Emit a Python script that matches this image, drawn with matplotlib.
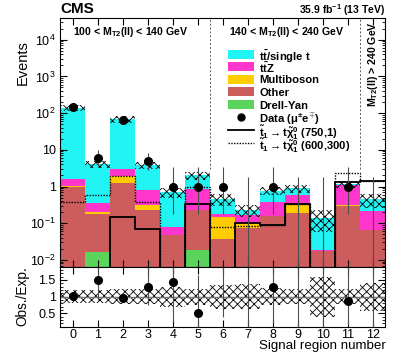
import numpy as np
import matplotlib
matplotlib.use('Agg')
import matplotlib.pyplot as plt
from matplotlib.patches import Rectangle
from matplotlib.ticker import LogLocator, NullFormatter, MultipleLocator

plt.rcParams['font.family'] = ['Liberation Sans', 'DejaVu Sans']
plt.rcParams['mathtext.fontset'] = 'custom'
plt.rcParams['mathtext.rm'] = 'Liberation Sans'
plt.rcParams['mathtext.it'] = 'Liberation Sans:italic'
plt.rcParams['mathtext.bf'] = 'Liberation Sans:bold'
plt.rcParams['hatch.linewidth'] = 0.6

# signal regions
regions = np.arange(13)
region_labels = [str(i) for i in regions]

# background estimates (stack order, bottom to top)
drell_yan = np.array([0, 0.016, 0, 0, 0, 0.019, 0, 0, 0, 0, 0, 0, 0])
other = np.array([1.0, 0.159, 1.27, 0.224, 0.047, 0.21, 0.037, 0.073, 0.16, 0.186, 0.0175, 0.29, 0.065])
multiboson = np.array([0.02, 0.03, 0.66, 0.086, 0, 0, 0.108, 0.027, 0, 0.144, 0, 0.02, 0])
ttz = np.array([0.55, 0.15, 1.0, 0.48, 0.033, 0.61, 0.033, 0.067, 0.21, 0.26, 0.0015, 0.79, 0.15])
ttbar = np.array([140.4, 3.65, 66.0, 3.06, 0.61, 1.16, 0.27, 0.063, 0.40, 0.30, 0.121, 0.05, 0.235])

# relative uncertainty of the total background
bkg_unc = np.array([0.2, 0.2, 0.22, 0.23, 0.3, 0.24, 0.36, 0.37, 0.25, 0.23, 0.6, 0.22, 0.42])

# observed data with 68% Poisson intervals
data = np.array([144, 6, 67, 5, 1, 1, 1, 0, 1, 0, 0, 1, 0])
data_lo = np.array([132.0, 3.62, 58.8, 2.84, 0.173, 0.173, 0.173, 0, 0.173, 0, 0, 0.173, 0])
data_hi = np.array([157.0, 9.58, 76.2, 8.38, 3.30, 3.30, 3.30, 1.84, 3.30, 1.84, 1.84, 3.30, 1.84])

# signal models
sig_750_1 = np.array([0, 0, 0.148, 0.069, 0, 0.34, 0, 0.099, 0.089, 0.33, 0, 1.35, 1.45])
sig_600_300 = np.array([0.37, 0.59, 1.93, 0.38, 0, 0.95, 0.08, 0.084, 0.089, 0.33, 0, 2.3, 1.45])

ytick_vals = [1e-2, 1e-1, 1, 10, 1e2, 1e3, 1e4]
ytick_labels = ['$10^{-2}$', '$10^{-1}$', '1', '10', '$10^{2}$', '$10^{3}$', '$10^{4}$']

leg_labels = [r't$\mathbf{\bar{t}}$/single t', r't$\mathbf{\bar{t}}$Z', 'Multiboson', 'Other', 'Drell-Yan',
              r'Data ($\mathbf{\mu^{\pm}e^{\mp}}$)',
              r'$\mathbf{\tilde{t}_1 \rightarrow t\tilde{\chi}^0_1}$ (750,1)',
              r'$\mathbf{\tilde{t}_1 \rightarrow t\tilde{\chi}^0_1}$ (600,300)']

c_tt = '#22f3f3'
c_ttz = '#ff35cc'
c_vv = '#ffcc00'
c_other = '#cd5c5c'
c_dy = '#5ad45a'

fig = plt.figure(figsize=(4.07, 3.56), dpi=100)
ax = fig.add_axes([0.1486, 0.2514, 0.7985, 0.699])
rax = fig.add_axes([0.1486, 0.0823, 0.7985, 0.1691])

stack = [(drell_yan, c_dy), (other, c_other), (multiboson, c_vv), (ttz, c_ttz), (ttbar, c_tt)]
bottom = np.zeros(13)
for vals, col in stack:
    ax.bar(regions, vals, width=1.0, bottom=bottom, color=col, lw=0)
    bottom = bottom + vals
total = bottom

ax.bar(regions, 2 * bkg_unc * total, width=1.0, bottom=total * (1 - bkg_unc),
       fill=False, hatch='xxxx', edgecolor='k', lw=0)

edges = np.arange(14) - 0.5
ax.stairs(np.where(sig_750_1 > 0, sig_750_1, 1e-4), edges, baseline=None, color='k', lw=1.3)
ax.stairs(np.where(sig_600_300 > 0, sig_600_300, 1e-4), edges, baseline=None, color='k', lw=1.0,
          linestyle=(0, (1, 1)))

ax.vlines(regions, np.clip(data_lo, 1e-4, None), data_hi, color='0.3', lw=0.8)
has = data > 0
ax.plot(regions[has], data[has], 'o', color='k', ms=5.5)

ax.vlines([5.5, 11.5], 3, 4e4, color='0.35', lw=0.7, linestyles=(0, (2, 2)))

ax.set_yscale('log')
ax.set_xlim(-0.5, 12.5)
ax.set_ylim(0.0066, 4e4)
ax.set_yticks(ytick_vals, ytick_labels)
ax.yaxis.set_minor_locator(LogLocator(base=10, subs=np.arange(2, 10), numticks=100))
ax.yaxis.set_minor_formatter(NullFormatter())
ax.set_xticks(regions)
ax.tick_params(which='both', direction='in', top=True, right=True, labelbottom=False, labelsize=9)
ax.tick_params(which='major', length=5)
ax.tick_params(which='minor', length=2.5)
ax.set_ylabel('Events', fontsize=10.5, ha='right')
ax.yaxis.set_label_coords(-0.095, 0.91)

ax.text(2.3, 1.6e4, r'100 < M$_{\mathbf{T2}}$(ll) < 140 GeV', ha='center', va='center',
        fontsize=7.6, fontweight='bold')
ax.text(8.55, 1.6e4, r'140 < M$_{\mathbf{T2}}$(ll) < 240 GeV', ha='center', va='center',
        fontsize=7.6, fontweight='bold')
ax.text(12.0, 3.2e4, r'M$_{\mathbf{T2}}$(ll) > 240 GeV', ha='center', va='top', rotation=90,
        fontsize=7.6, fontweight='bold')

# legend drawn row by row in axes coordinates
row_px = [54.7, 66.8, 79.2, 91.8, 104.6, 117.4, 130.3, 143.3]
ax_top_px, ax_h_px = 266.5, 249.0
x0, x1, xt = 0.515, 0.595, 0.612
for i, lab in enumerate(leg_labels):
    yc = (ax_top_px - row_px[i]) / ax_h_px
    if i < 5:
        col = [c_tt, c_ttz, c_vv, c_other, c_dy][i]
        ax.add_patch(Rectangle((x0, yc - 0.018), x1 - x0, 0.036, transform=ax.transAxes,
                               facecolor=col, lw=0, clip_on=False))
    elif i == 5:
        ax.plot([(x0 + x1) / 2], [yc], 'o', color='k', ms=5, transform=ax.transAxes, clip_on=False)
    elif i == 6:
        ax.plot([x0, x1], [yc, yc], color='k', lw=1.3, transform=ax.transAxes)
    else:
        ax.plot([x0, x1], [yc, yc], color='k', lw=1.0, ls=(0, (1, 1)), transform=ax.transAxes)
    ax.text(xt, yc, lab, transform=ax.transAxes, ha='left', va='center_baseline',
            fontsize=8.1, fontweight='bold')

fig.text(0.1486, 1 - 13.0 / 356, 'CMS', fontsize=11, fontweight='bold', ha='left', va='baseline')
fig.text(0.947, 1 - 13.5 / 356, r'35.9 fb$^{\mathbf{-1}}$ (13 TeV)', fontsize=7.5, fontweight='bold',
         ha='right', va='baseline')

# ratio panel
ratio = data / total
rax.bar(regions, 2 * bkg_unc, width=1.0, bottom=1 - bkg_unc, fill=False, hatch='xxxx', edgecolor='k', lw=0)
rax.axhline(1, color='0.45', lw=1)
rax.vlines(regions, data_lo / total, data_hi / total, color='0.3', lw=0.8)
rax.plot(regions[has], ratio[has], 'o', color='k', ms=5.5)
rax.set_xlim(-0.5, 12.5)
rax.set_ylim(0.1, 1.9)
rax.set_xticks(regions, region_labels)
rax.set_yticks([0.5, 1, 1.5], ['0.5', '1', '1.5'])
rax.yaxis.set_minor_locator(MultipleLocator(0.1))
rax.tick_params(which='both', direction='in', top=True, right=True, labelsize=9)
rax.tick_params(axis='x', pad=2)
rax.tick_params(which='major', length=5)
rax.tick_params(which='minor', length=2.5)
rax.tick_params(axis='x', which='minor', bottom=False, top=False)
rax.set_ylabel('Obs./Exp.', fontsize=9.8)
rax.yaxis.set_label_coords(-0.095, 0.5)
rax.set_xlabel('Signal region number', fontsize=9.6, ha='right', va='top')
rax.xaxis.set_label_coords(1.0, -0.225)

fig.savefig('out.png', dpi=100)
plt.close(fig)
